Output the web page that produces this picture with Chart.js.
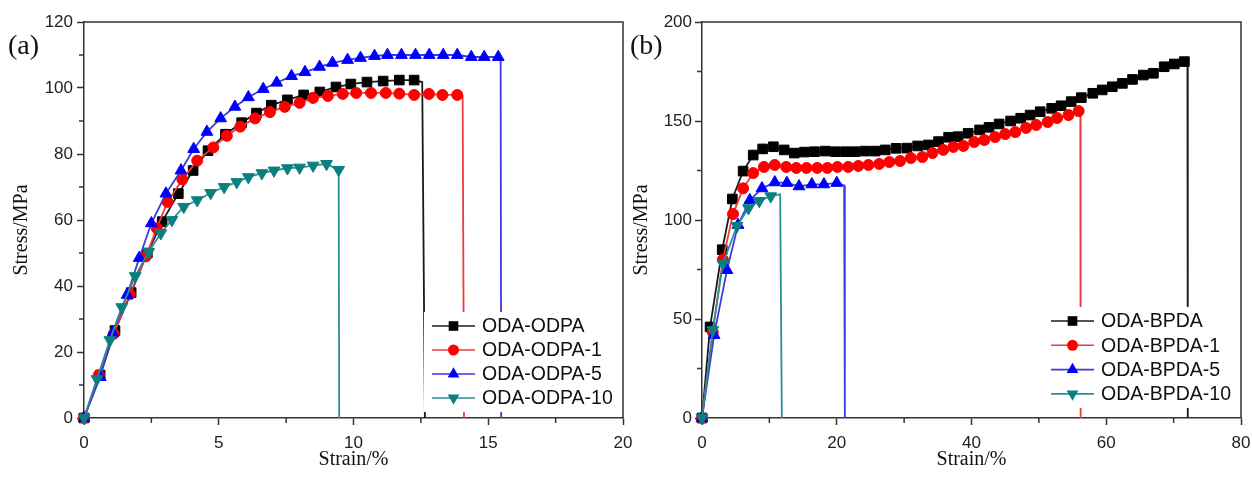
<!DOCTYPE html>
<html>
<head>
<meta charset="utf-8">
<script src="https://cdn.jsdelivr.net/npm/chart.js@4.4.1/dist/chart.umd.min.js"></script>
<style>
  html, body { margin: 0; padding: 0; background: #fff; }
  #wrap { position: relative; width: 1252px; height: 477px; overflow: hidden; background: #fff; }
  #chartA { position: absolute; left: 0; top: 0; }
  #chartB { position: absolute; left: 620px; top: 0; }
</style>
</head>
<body>
<div id="wrap">
  <canvas id="chartA" width="680" height="477"></canvas>
  <canvas id="chartB" width="660" height="477"></canvas>
</div>
<script>
// ---- (a) ODPA series: [strain %, stress MPa] ----
const namesA = ["ODA-ODPA", "ODA-ODPA-1", "ODA-ODPA-5", "ODA-ODPA-10"];

const odpa0 = [[0,0],[0.6,13],[1.15,26.5],[1.75,38],[2.35,50],[2.9,59.5],[3.5,68],[4.05,75],[4.6,81],
  [5.25,86],[5.85,89.5],[6.4,92.4],[6.95,94.8],[7.55,96.4],[8.15,97.9],[8.75,98.8],[9.35,100.3],
  [9.9,101.2],[10.5,101.8],[11.1,102.1],[11.7,102.4],[12.25,102.4]];
const odpa0End = [[12.55,101.8],[12.65,0]];

const odpa1 = [[0,0],[0.55,13],[1.1,25.5],[1.7,37.5],[2.3,49],[2.7,57.5],[3.1,65.5],[3.65,72.3],[4.2,78],
  [4.8,82],[5.3,85.5],[5.8,88.3],[6.35,90.8],[6.9,92.7],[7.45,94.3],[8.0,95.5],[8.5,97],[9.05,97.6],
  [9.6,98.2],[10.1,98.5],[10.65,98.5],[11.2,98.5],[11.7,98.3],[12.25,97.9],[12.8,98.2],[13.3,97.9],[13.85,97.9]];
const odpa1End = [[14.05,97.6],[14.1,0]];

const odpa5 = [[0,0],[0.6,12.4],[1.07,25.7],[1.6,37.3],[2.05,48.5],[2.5,59],[3.04,68],[3.6,75],[4.07,81.5],
  [4.56,86.7],[5.07,90.8],[5.6,94.3],[6.1,97.2],[6.65,99.7],[7.15,101.6],[7.7,103.6],[8.2,104.8],[8.74,106.4],
  [9.22,107.6],[9.78,108.5],[10.26,109.1],[10.78,109.7],[11.26,110],[11.78,110],[12.3,110],[12.81,110],
  [13.33,110],[13.85,110],[14.37,109.4],[14.85,109.4],[15.37,109.4]];
const odpa5End = [[15.46,109],[15.48,0]];

const odpa10 = [[0,0],[0.48,11.8],[0.96,23.6],[1.4,33.6],[1.9,43],[2.4,50.3],[2.85,56],[3.26,60],[3.7,64],
  [4.2,66],[4.7,68.2],[5.2,70],[5.67,71.5],[6.1,73],[6.6,74.2],[7.05,75],[7.55,75.7],[8.0,75.9],
  [8.5,76.5],[9.0,77],[9.45,75.2]];
const odpa10End = [[9.47,0]];

// ---- (b) BPDA series ----
const namesB = ["ODA-BPDA", "ODA-BPDA-1", "ODA-BPDA-5", "ODA-BPDA-10"];

const bpda0 = [[0,0],[1.2,46],[3.0,85],[4.5,110.6],[6.1,124.7],[7.6,132.8],[9.0,135.9],[10.6,137],[12.2,135.4],
  [13.7,133.8],[15.2,134.3],[16.7,134.5],[18.3,134.8],[19.8,134.5],[21.3,134.5],[22.7,134.5],[24.2,134.8],
  [25.7,134.8],[27.2,135.4],[28.8,136.2],[30.4,136.3],[32.0,137.4],[33.6,137.9],[35.1,139.6],[36.6,141.8],
  [38.0,142.1],[39.5,143.8],[41.2,145.5],[42.6,146.8],[44.1,148.5],[45.8,150],[47.3,151.4],[48.7,153],
  [50.2,154.7],[51.9,156.4],[53.3,157.7],[54.8,159.8],[56.3,161.8],[58.0,164],[59.4,165.7],[60.9,167.3],
  [62.4,169],[63.9,171],[65.5,173.2],[67.0,174.1],[68.6,177.4],[70.1,178.8],[71.6,180]];
const bpda0End = [[72.05,179],[72.1,0]];

const bpda1 = [[0,0],[1.6,43.4],[3.1,80],[4.6,103],[6.1,116],[7.6,123.7],[9.2,126.8],[10.8,127.8],[12.5,126.8],
  [14.0,126.3],[15.5,126.3],[17.1,126.3],[18.6,126.3],[20.1,126.8],[21.7,126.8],[23.2,127.3],[24.7,127.8],
  [26.3,128.3],[27.8,129.3],[29.4,129.8],[31.0,131.3],[32.7,131.8],[34.2,133.8],[35.8,135.4],[37.3,136.9],
  [38.8,137.4],[40.4,139.4],[41.9,140.4],[43.5,141.9],[45.0,143.4],[46.5,144.4],[48.1,146.5],[49.6,148],
  [51.3,149.5],[52.7,151.5],[54.4,153],[55.9,155]];
const bpda1End = [[56.15,154],[56.2,0]];

const bpda5 = [[0,0],[1.8,41.9],[3.7,74.7],[5.35,97.5],[7.1,110],[8.9,116],[10.8,119],[12.6,118.7],
  [14.4,117],[16.3,118],[18.1,118],[20.0,118.7]];
const bpda5End = [[21.1,117.5],[21.2,0]];

const bpda10 = [[0,0],[1.6,44.4],[3.1,78],[5.2,97],[6.9,106],[8.5,109.6],[10.2,112]];
const bpda10End = [[11.6,113],[11.85,0]];

// ---- ortak stil ----
const styles = [
  { fill: "#000000", line: "#1a1a1a", shape: "rect", rot: 0, r: 6.8 },
  { fill: "#ff0000", line: "#ee3b3b", shape: "circle", rot: 0, r: 5.5 },
  { fill: "#0000ff", line: "#3a3ae0", shape: "triangle", rot: 0, r: 6.8 },
  { fill: "#0b7f7f", line: "#2b9090", shape: "triangle", rot: 180, r: 6.8 }
];

function makeDataset(label, pts, tail, idx) {
  const st = styles[idx];
  const all = pts.concat(tail);
  return {
    label: label,
    data: all.map(p => ({ x: p[0], y: p[1] })),
    showLine: true,
    borderColor: st.line,
    borderWidth: 1.8,
    backgroundColor: st.fill,
    pointBackgroundColor: st.fill,
    pointBorderColor: st.fill,
    pointBorderWidth: 1,
    pointStyle: st.shape,
    pointRotation: st.rot,
    pointRadius: all.map((p, i) => (i < pts.length ? st.r : 0)),
    pointHoverRadius: 0,
    tension: 0,
    clip: false,
    order: 4 - idx,
    markerStyle: st
  };
}

function drawMarker(ctx, st, x, y) {
  ctx.beginPath();
  if (st.shape === "rect") {
    const s = Math.SQRT1_2 * st.r;
    ctx.rect(x - s, y - s, 2 * s, 2 * s);
  } else if (st.shape === "circle") {
    ctx.arc(x, y, st.r, 0, Math.PI * 2);
  } else {
    const r = st.r;
    let a = st.rot * Math.PI / 180;
    ctx.moveTo(x + Math.sin(a) * r, y - Math.cos(a) * r);
    a += 2 * Math.PI / 3;
    ctx.lineTo(x + Math.sin(a) * r, y - Math.cos(a) * r);
    a += 2 * Math.PI / 3;
    ctx.lineTo(x + Math.sin(a) * r, y - Math.cos(a) * r);
    ctx.closePath();
  }
  ctx.fillStyle = st.fill;
  ctx.fill();
}

// legend inside the plot, bottom right, with white box
const insideLegend = {
  id: "insideLegend",
  afterDatasetsDraw(chart, args, opts) {
    const ctx = chart.ctx;
    const area = chart.chartArea;
    const x0 = area.right - opts.fromRight;
    const y0 = area.bottom - opts.fromBottom;
    const n = chart.data.datasets.length;
    ctx.save();
    ctx.fillStyle = "#fff";
    ctx.fillRect(x0 - 8, y0 - 14, area.right - 3 - (x0 - 8), (n - 1) * opts.gap + 28);
    chart.data.datasets.forEach((ds, i) => {
      const y = y0 + i * opts.gap;
      ctx.strokeStyle = ds.borderColor;
      ctx.lineWidth = 1.6;
      ctx.beginPath();
      ctx.moveTo(x0, y);
      ctx.lineTo(x0 + 43, y);
      ctx.stroke();
      drawMarker(ctx, ds.markerStyle, x0 + 21.5, y);
      ctx.fillStyle = "#111";
      ctx.font = "19.5px 'Liberation Sans', Arial, sans-serif";
      ctx.textAlign = "left";
      ctx.textBaseline = "middle";
      ctx.fillText(ds.label, x0 + 50, y + 1);
    });
    ctx.restore();
  }
};

// top/right frame lines, minor ticks and panel letter
const frameTicks = {
  id: "frameTicks",
  afterDraw(chart, args, opts) {
    const ctx = chart.ctx;
    const a = chart.chartArea;
    const xs = chart.scales.x;
    const ys = chart.scales.y;
    ctx.save();
    ctx.strokeStyle = "#333";
    ctx.lineWidth = 1.5;
    ctx.beginPath();
    ctx.moveTo(a.left, a.top);
    ctx.lineTo(a.right, a.top);
    ctx.lineTo(a.right, a.bottom);
    ctx.stroke();
    ctx.beginPath();
    for (let v = xs.min + opts.xMinor; v < xs.max; v += 2 * opts.xMinor) {
      const px = xs.getPixelForValue(v);
      ctx.moveTo(px, a.bottom);
      ctx.lineTo(px, a.bottom + 5);
    }
    for (let v = ys.min + opts.yMinor; v < ys.max; v += 2 * opts.yMinor) {
      const py = ys.getPixelForValue(v);
      ctx.moveTo(a.left, py);
      ctx.lineTo(a.left - 5, py);
    }
    ctx.stroke();
    ctx.fillStyle = "#111";
    ctx.font = "28px 'Liberation Serif', 'Times New Roman', serif";
    ctx.textAlign = "left";
    ctx.textBaseline = "middle";
    ctx.fillText(opts.label, opts.labelX, 47);
    ctx.restore();
  }
};

function makeChart(canvasId, datasets, cfg) {
  const tickFont = { family: "'Liberation Sans', Arial, sans-serif", size: 17 };
  const titleFont = { family: "'Liberation Serif', 'Times New Roman', serif", size: 20 };
  return new Chart(document.getElementById(canvasId), {
    type: "scatter",
    data: { datasets: datasets },
    options: {
      responsive: false,
      animation: false,
      events: [],
      layout: { padding: { left: 0, top: 22, right: cfg.padRight, bottom: 0 } },
      plugins: {
        legend: { display: false },
        tooltip: { enabled: false },
        insideLegend: cfg.legend,
        frameTicks: { xMinor: cfg.xMinor, yMinor: cfg.yMinor, label: cfg.label, labelX: cfg.labelX }
      },
      scales: {
        x: {
          type: "linear",
          min: 0,
          max: cfg.xMax,
          afterFit: s => { s.height = 59; },
          ticks: { stepSize: cfg.xStep, color: "#222", font: tickFont, padding: 8, maxRotation: 0 },
          grid: { drawOnChartArea: false, drawTicks: true, tickLength: 7, tickColor: "#333", tickWidth: 1.5 },
          border: { display: true, color: "#333", width: 1.5 },
          title: { display: true, text: "Strain/%", color: "#111", font: titleFont, padding: { top: 0, bottom: 5 } }
        },
        y: {
          type: "linear",
          min: 0,
          max: cfg.yMax,
          afterFit: s => { s.width = cfg.yWidth; },
          ticks: { stepSize: cfg.yStep, color: "#222", font: tickFont, padding: cfg.yPad },
          grid: { drawOnChartArea: false, drawTicks: true, tickLength: 7, tickColor: "#333", tickWidth: 1.5 },
          border: { display: true, color: "#333", width: 1.5 },
          title: { display: true, text: "Stress/MPa    ", color: "#111", font: titleFont, padding: { top: 10, bottom: 0 } }
        }
      }
    },
    plugins: [insideLegend, frameTicks]
  });
}

window.addEventListener("DOMContentLoaded", function () {
  const dsA = [
    makeDataset(namesA[0], odpa0, odpa0End, 0),
    makeDataset(namesA[1], odpa1, odpa1End, 1),
    makeDataset(namesA[2], odpa5, odpa5End, 2),
    makeDataset(namesA[3], odpa10, odpa10End, 3)
  ];
  const dsB = [
    makeDataset(namesB[0], bpda0, bpda0End, 0),
    makeDataset(namesB[1], bpda1, bpda1End, 1),
    makeDataset(namesB[2], bpda5, bpda5End, 2),
    makeDataset(namesB[3], bpda10, bpda10End, 3)
  ];

  // canvases are wider than their panels so tick-label overflow never squeezes the plot
  makeChart("chartA", dsA, {
    padRight: 57, yWidth: 84, yPad: 4,
    xMax: 20, xStep: 5, xMinor: 2.5,
    yMax: 120, yStep: 20, yMinor: 10,
    label: "(a)", labelX: 8,
    legend: { fromRight: 191, fromBottom: 92, gap: 24 }
  });
  makeChart("chartB", dsB, {
    padRight: 39, yWidth: 82, yPad: 3,
    xMax: 80, xStep: 20, xMinor: 10,
    yMax: 200, yStep: 50, yMinor: 25,
    label: "(b)", labelX: 10,
    legend: { fromRight: 190, fromBottom: 97, gap: 24.3 }
  });
});
</script>
</body>
</html>
